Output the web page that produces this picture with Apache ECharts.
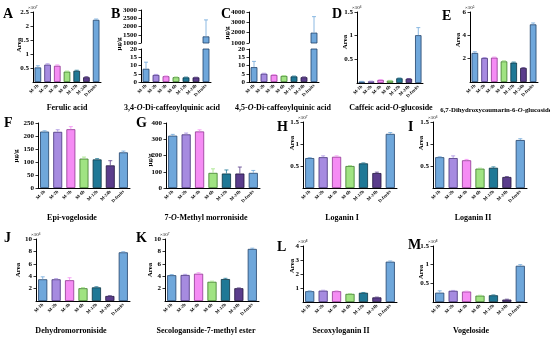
<!DOCTYPE html>
<html><head><meta charset="utf-8">
<script src="https://cdn.jsdelivr.net/npm/echarts@6/dist/echarts.min.js"></script>
<style>html,body{margin:0;padding:0;background:#fff}#c{width:550px;height:344px}</style>
</head><body><div id="c"></div>
<script>
// ---------- data ----------
const categories = ['M-1h','M-2h','M-3h','M-6h','M-12h','M-24h','D-fruits'];

const ferulicAcid      = [0.52,0.62,0.58,0.37,0.40,0.17,2.22];
const ferulicAcidErr   = [0.06,0.03,0.03,0.02,0.02,0.02,0.03];
const diCQA34          = [8.0,4.3,3.5,2.9,2.8,2.8,1400];
const diCQA34Err       = [4.0,0.3,0.2,0.2,0.2,0.1,1000];
const diCQA45          = [9.0,5.0,4.3,3.7,3.4,2.9,2000];
const diCQA45Err       = [3.5,0.3,0.2,0.2,0.2,0.2,1550];
const caffeicGlc       = [0.03,0.035,0.065,0.05,0.10,0.09,1.01];
const caffeicGlcErr    = [0.005,0.005,0.005,0.005,0.005,0.005,0.16];
const dhcGlc           = [2.49,2.06,2.09,1.77,1.66,1.20,4.94];
const dhcGlcErr        = [0.10,0.04,0.05,0.05,0.05,0.03,0.12];
const epiVogeloside    = [217,216,226,113,110,87,137];
const epiVogelosideErr = [3,8,10,6,3,18,5];
const methylMorron     = [322,330,348,93,89,89,93];
const methylMorronErr  = [8,8,10,25,22,40,15];
const loganinI         = [0.68,0.70,0.71,0.50,0.56,0.34,1.23];
const loganinIErr      = [0.01,0.03,0.02,0.01,0.01,0.02,0.03];
const loganinII        = [0.70,0.68,0.63,0.44,0.46,0.25,1.09];
const loganinIIErr     = [0.01,0.05,0.02,0.01,0.02,0.01,0.03];
const dehydroMorron    = [3.5,3.5,3.35,2.06,2.2,0.81,7.85];
const dehydroMorronErr = [0.4,0.1,0.4,0.1,0.1,0.05,0.1];
const secologanside    = [4.16,4.2,4.4,3.1,3.54,2.06,8.4];
const secologansideErr = [0.1,0.1,0.15,0.1,0.12,0.05,0.12];
const secoxyloganinII  = [0.77,0.81,0.77,0.58,0.66,0.33,2.88];
const secoxyloganinIIErr=[0.03,0.03,0.03,0.02,0.02,0.02,0.05];
const vogeloside       = [0.25,0.30,0.28,0.17,0.18,0.065,0.97];
const vogelosideErr    = [0.05,0.01,0.01,0.01,0.01,0.01,0.03];

// ---------- styles ----------
const FONT = "'Liberation Serif','Times New Roman',serif";
const barFill = ['#6fa7db','#a68be0','#f58cf4','#a0e382','#1f7896','#5b3d8c','#6fa7db'];
const barEdge = ['#22436b','#45317a','#8f3590','#3c7a2b','#0b3343','#22153d','#22436b'];

// ---------- layout ----------
const panels = [
 {L:'A',lx:3,ly:7,  t:'Ferulic acid',ty:108,cx:67, v:ferulicAcid,e:ferulicAcidErr, box:[33,12,68,70], max:2.5,step:0.5, zero:false, u:'Area',ux:19,uy:45, exp:'×10⁷'},
 {L:'B',lx:111,ly:7,t:'3,4-{i|O}-Di-caffeoylquinic acid',ty:108,cx:172, v:diCQA34,e:diCQA34Err, box:[141,49,70,33], max:20,step:5, zero:true,
   hi:{box:[141,10,70,33],min:1000,max:3000,step:500}, u:'μg/g',ux:119,uy:44},
 {L:'C',lx:221,ly:7,t:'4,5-{i|O}-Di-caffeoylquinic acid',ty:108,cx:283, v:diCQA45,e:diCQA45Err, box:[249,49,70,33], max:20,step:5, zero:true,
   hi:{box:[249,12,70,31],min:1000,max:4000,step:1000}, u:'μg/g',ux:227,uy:33},
 {L:'D',lx:332,ly:7,t:'Caffeic acid-{i|O}-glucoside',ty:108,cx:391, v:caffeicGlc,e:caffeicGlcErr, box:[357,12,66,71], max:1.5,step:0.5, zero:false, u:'Area',ux:345,uy:42, exp:'×10⁶'},
 {L:'E',lx:442,ly:9,t:'6,7-Dihydroxycoumarin-6-{i|O}-glucoside',ty:110,cx:496,fs:6.8, v:dhcGlc,e:dhcGlcErr, box:[470,12,68,70], max:6,step:2, zero:false, u:'Area',ux:458,uy:40, exp:'×10⁵'},
 {L:'F',lx:4,ly:116,t:'Epi-vogeloside',ty:218,cx:72, v:epiVogeloside,e:epiVogelosideErr, box:[38,123,92,65], max:250,step:50, zero:true, u:'μg/g',ux:16,uy:156},
 {L:'G',lx:136,ly:116,t:'7-{i|O}-Methyl morroniside',ty:218,cx:206, v:methylMorron,e:methylMorronErr, box:[166,123,94,65], max:400,step:100, zero:true, u:'μg/g',ux:150,uy:160},
 {L:'H',lx:277,ly:120,t:'Loganin I',ty:218,cx:342, v:loganinI,e:loganinIErr, box:[303,122,94,66], max:1.5,step:0.5, zero:false, u:'Area',ux:292,uy:143, exp:'×10⁷'},
 {L:'I',lx:408,ly:120,t:'Loganin II',ty:218,cx:473, v:loganinII,e:loganinIIErr, box:[433,122,94,66], max:1.5,step:0.5, zero:false, u:'Area',ux:421,uy:143, exp:'×10⁶'},
 {L:'J',lx:4,ly:231,t:'Dehydromorroniside',ty:331,cx:71, v:dehydroMorron,e:dehydroMorronErr, box:[36,239,94,62], max:10,step:2, zero:false, u:'Area',ux:18,uy:270, exp:'×10⁶'},
 {L:'K',lx:136,ly:231,t:'Secologanside-7-methyl ester',ty:331,cx:206, v:secologanside,e:secologansideErr, box:[165,239,94,62], max:10,step:2, zero:false, u:'Area',ux:150,uy:270, exp:'×10⁷'},
 {L:'L',lx:277,ly:240,t:'Secoxyloganin II',ty:331,cx:341, v:secoxyloganinII,e:secoxyloganinIIErr, box:[303,246,94,56], max:4,step:1, zero:false, u:'Area',ux:292,uy:266, exp:'×10⁸'},
 {L:'M',lx:408,ly:238,t:'Vogeloside',ty:331,cx:471, v:vogeloside,e:vogelosideErr, box:[433,246,94,56], max:1.5,step:0.5, zero:false, u:'Area',ux:421,uy:272, exp:'×10⁸'}
];

const grid=[], xAxis=[], yAxis=[], series=[], graphic=[];

function errItem(params, api){
  const i = api.value(0), v = api.value(1), e = api.value(2);
  const p0 = api.coord([i, v]), p1 = api.coord([i, v + e]);
  const c = barFill[i], w = 2;
  return {type:'group', children:[
    {type:'line', shape:{x1:p0[0],y1:p0[1],x2:p1[0],y2:p1[1]}, style:{stroke:c,lineWidth:0.8}},
    {type:'line', shape:{x1:p1[0]-w,y1:p1[1],x2:p1[0]+w,y2:p1[1]}, style:{stroke:c,lineWidth:0.8}}
  ]};
}

function addGrid(box, ymin, ymax, step, showZero, showX, vals, errs){
  const gi = grid.length;
  grid.push({left:box[0], top:box[1], width:box[2], height:box[3], containLabel:false});
  xAxis.push({type:'category', gridIndex:gi, data:categories, show:showX,
    axisLine:{lineStyle:{color:'#000',width:1}},
    axisTick:{alignWithLabel:true,length:2.5,lineStyle:{color:'#000',width:0.8}},
    axisLabel:{interval:0, rotate:45, fontSize:4.6, fontFamily:FONT, fontWeight:'bold', color:'#000', margin:3}});
  yAxis.push({type:'value', gridIndex:gi, min:ymin, max:ymax, interval:step,
    axisLine:{show:true,lineStyle:{color:'#000',width:1}},
    axisTick:{show:true,length:2.5,lineStyle:{color:'#000',width:0.8}},
    splitLine:{show:false},
    axisLabel:{showMinLabel:showZero, formatter:(v)=>String(v), fontSize:7, fontFamily:FONT, fontWeight:'bold', color:'#000', margin:4}});
  series.push({type:'bar', xAxisIndex:gi, yAxisIndex:gi, barWidth:'68%', clip:true, animation:false,
    data: vals.map((v,i)=>({value:v, itemStyle:{color:barFill[i], borderColor:barEdge[i], borderWidth:0.8}}))});
  series.push({type:'custom', xAxisIndex:gi, yAxisIndex:gi, clip:true, animation:false, z:3,
    renderItem:errItem, encode:{x:0,y:1}, data: vals.map((v,i)=>[i, v, errs[i]])});
}

panels.forEach(p=>{
  addGrid(p.box, 0, p.max, p.step, p.zero, true, p.v, p.e);
  if(p.hi) addGrid(p.hi.box, p.hi.min, p.hi.max, p.hi.step, true, false, p.v, p.e);
  const fs = p.fs || 8;
  graphic.push({type:'text', left:p.lx, top:p.ly, silent:true, style:{text:p.L, font:'bold 14px '+FONT, fill:'#000'}});
  graphic.push({type:'text', x:p.cx, y:p.ty, silent:true, style:{text:p.t, font:'bold '+fs+'px '+FONT, fill:'#000',
    align:'center', verticalAlign:'middle',
    rich:{i:{fontStyle:'italic', fontWeight:'bold', fontSize:fs, fontFamily:FONT, fill:'#000'}}}});
  graphic.push({type:'text', x:p.ux, y:p.uy, rotation:Math.PI/2, silent:true,
    style:{text:p.u, font:'bold 7px '+FONT, fill:'#000', align:'center', verticalAlign:'middle'}});
  if(p.exp){
    const top = p.hi ? p.hi.box[1] : p.box[1];
    graphic.push({type:'text', x:p.box[0]-5, y:top-2, silent:true,
      style:{text:p.exp, font:'5px '+FONT, fill:'#000', align:'left', verticalAlign:'bottom'}});
  }
});

const chart = echarts.init(document.getElementById('c'), null, {renderer:'canvas'});
chart.setOption({animation:false, backgroundColor:'#fff', grid, xAxis, yAxis, series, graphic});
</script></body></html>
